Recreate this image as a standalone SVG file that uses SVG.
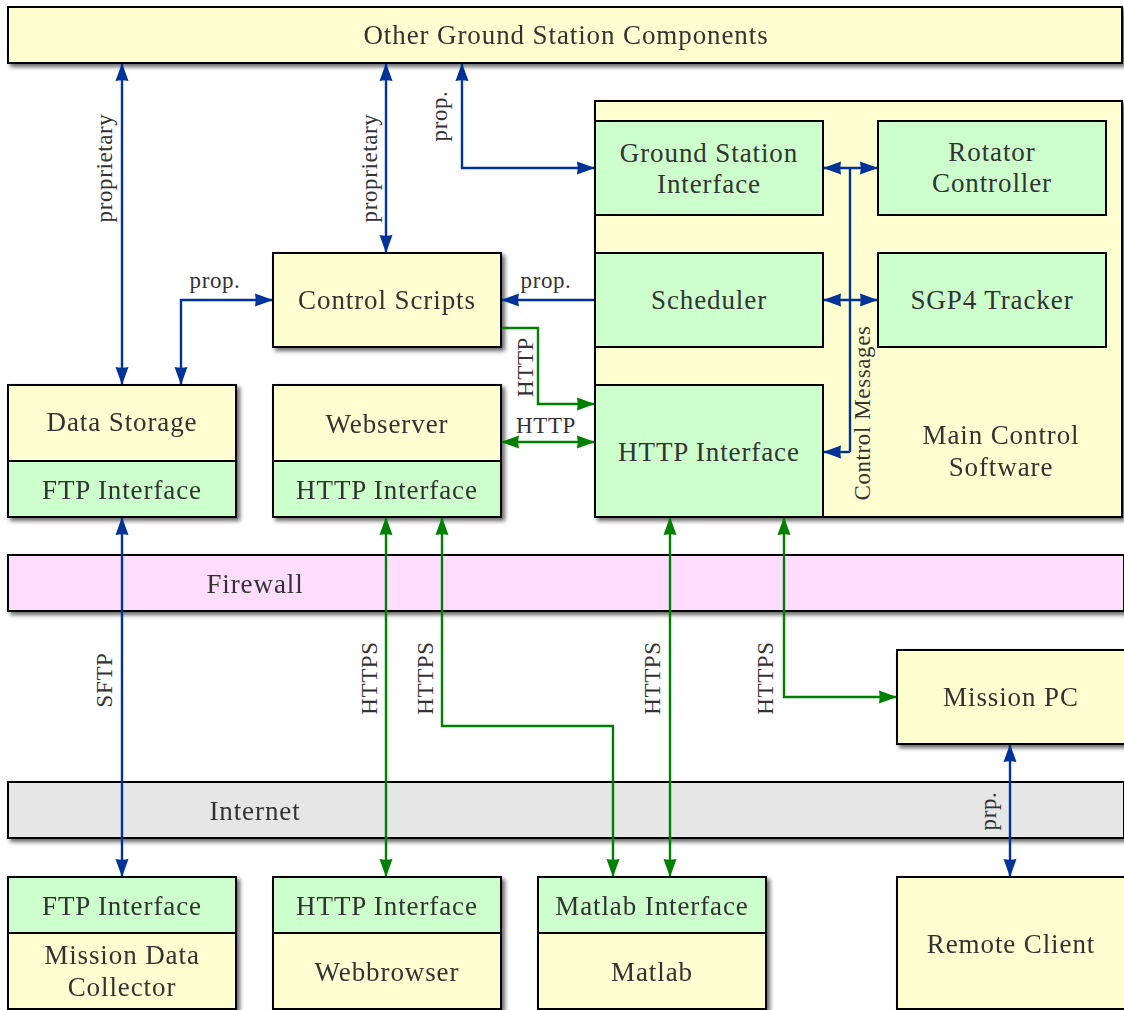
<svg xmlns="http://www.w3.org/2000/svg" width="1124" height="1010" viewBox="0 0 1124 1010">
  <defs>
    <style>
      .box { stroke: #000; stroke-width: 2; }
      .yel { fill: #FFFFD1; }
      .grn { fill: #CCFFCC; }
      .pnk { fill: #FFDDFF; }
      .gry { fill: #E6E6E6; }
      .lbl { font-family: "Liberation Serif", "Times New Roman", serif; font-size: 27px; letter-spacing: 0.9px; fill: #333; text-anchor: middle; }
      .sm { font-size: 23px; letter-spacing: 0.6px; }
      .blue { fill: none; stroke: #003399; stroke-width: 2.4; }
      .green { fill: none; stroke: #008000; stroke-width: 2.4; }
      .blue.a2, .blue.a1 { marker-end: url(#tipB); }
      .blue.a2 { marker-start: url(#tipB); }
      .green.a2, .green.a1 { marker-end: url(#tipG); }
      .green.a2 { marker-start: url(#tipG); }
    </style>
    <marker id="tipB" viewBox="-18 -7 19 14" refX="0" refY="0" markerWidth="19" markerHeight="14" markerUnits="userSpaceOnUse" orient="auto-start-reverse">
      <path d="M1,0 L-17,-6.5 Q-15.5,0 -17,6.5 Z" fill="#003399"/>
    </marker>
    <marker id="tipG" viewBox="-18 -7 19 14" refX="0" refY="0" markerWidth="19" markerHeight="14" markerUnits="userSpaceOnUse" orient="auto-start-reverse">
      <path d="M1,0 L-17,-6.5 Q-15.5,0 -17,6.5 Z" fill="#008000"/>
    </marker>
    <filter id="shadow" x="-5%" y="-10%" width="115%" height="140%">
      <feGaussianBlur in="SourceAlpha" stdDeviation="2"/>
      <feOffset dx="3" dy="3"/>
      <feComponentTransfer><feFuncA type="linear" slope="0.6"/></feComponentTransfer>
      <feMerge><feMergeNode/><feMergeNode in="SourceGraphic"/></feMerge>
    </filter>
  </defs>

  <!-- top bar -->
  <g id="other-components" filter="url(#shadow)">
    <rect class="box yel" x="8" y="7" width="1114" height="56"/>
    <text class="lbl" x="566" y="44">Other Ground Station Components</text>
  </g>

  <!-- main control software with its modules -->
  <g id="main-control" filter="url(#shadow)">
    <rect class="box yel" x="595" y="101" width="527" height="416"/>
    <text class="lbl" x="1001" y="444">Main Control</text>
    <text class="lbl" x="1001" y="476">Software</text>
  </g>
  <g id="gs-interface">
    <rect class="box grn" x="595" y="121" width="228" height="94"/>
    <text class="lbl" x="709" y="162">Ground Station</text>
    <text class="lbl" x="709" y="193">Interface</text>
  </g>
  <g id="rotator">
    <rect class="box grn" x="878" y="121" width="228" height="94"/>
    <text class="lbl" x="992" y="161">Rotator</text>
    <text class="lbl" x="992" y="192">Controller</text>
  </g>
  <g id="scheduler">
    <rect class="box grn" x="595" y="253" width="228" height="94"/>
    <text class="lbl" x="709" y="309">Scheduler</text>
  </g>
  <g id="sgp4">
    <rect class="box grn" x="878" y="253" width="228" height="94"/>
    <text class="lbl" x="992" y="309">SGP4 Tracker</text>
  </g>
  <g id="mcs-http">
    <rect class="box grn" x="595" y="385" width="228" height="132"/>
    <text class="lbl" x="709" y="461">HTTP Interface</text>
  </g>

  <!-- server side -->
  <g id="control-scripts" filter="url(#shadow)">
    <rect class="box yel" x="273" y="253" width="228" height="94"/>
    <text class="lbl" x="387" y="309">Control Scripts</text>
  </g>
  <g id="data-storage" filter="url(#shadow)">
    <rect class="box yel" x="8" y="385" width="228" height="76"/>
    <rect class="box grn" x="8" y="461" width="228" height="56"/>
    <text class="lbl" x="122" y="431">Data Storage</text>
    <text class="lbl" x="122" y="499">FTP Interface</text>
  </g>
  <g id="webserver" filter="url(#shadow)">
    <rect class="box yel" x="273" y="385" width="228" height="76"/>
    <rect class="box grn" x="273" y="461" width="228" height="56"/>
    <text class="lbl" x="387" y="433">Webserver</text>
    <text class="lbl" x="387" y="499">HTTP Interface</text>
  </g>

  <!-- network layers -->
  <g id="firewall" filter="url(#shadow)">
    <rect class="box pnk" x="8" y="555" width="1116" height="56"/>
    <text class="lbl" x="255" y="593">Firewall</text>
  </g>
  <g id="mission-pc" filter="url(#shadow)">
    <rect class="box yel" x="897" y="650" width="228" height="94"/>
    <text class="lbl" x="1011" y="706">Mission PC</text>
  </g>
  <g id="internet" filter="url(#shadow)">
    <rect class="box gry" x="8" y="782" width="1116" height="56"/>
    <text class="lbl" x="255" y="820">Internet</text>
  </g>

  <!-- clients -->
  <g id="collector" filter="url(#shadow)">
    <rect class="box grn" x="8" y="877" width="228" height="56"/>
    <rect class="box yel" x="8" y="933" width="228" height="76"/>
    <text class="lbl" x="122" y="915">FTP Interface</text>
    <text class="lbl" x="122" y="964">Mission Data</text>
    <text class="lbl" x="122" y="996">Collector</text>
  </g>
  <g id="webbrowser" filter="url(#shadow)">
    <rect class="box grn" x="273" y="877" width="228" height="56"/>
    <rect class="box yel" x="273" y="933" width="228" height="76"/>
    <text class="lbl" x="387" y="915">HTTP Interface</text>
    <text class="lbl" x="387" y="981">Webbrowser</text>
  </g>
  <g id="matlab" filter="url(#shadow)">
    <rect class="box grn" x="538" y="877" width="228" height="56"/>
    <rect class="box yel" x="538" y="933" width="228" height="76"/>
    <text class="lbl" x="652" y="915">Matlab Interface</text>
    <text class="lbl" x="652" y="981">Matlab</text>
  </g>
  <g id="remote-client" filter="url(#shadow)">
    <rect class="box yel" x="897" y="877" width="228" height="132"/>
    <text class="lbl" x="1011" y="953">Remote Client</text>
  </g>

  <!-- connectors -->
  <g id="connectors">
    <path class="blue a2" d="M122,64 V384"/>
    <path class="blue a2" d="M386,64 V252"/>
    <path class="blue a2" d="M462,64 V168 H594"/>
    <path class="blue a2" d="M272,300 H181 V384"/>
    <path class="blue a1" d="M594,300 H502"/>
    <path class="green a1" d="M502,328 H538 V404 H594"/>
    <path class="green a2" d="M502,442 H594"/>

    <path class="blue" d="M850,168 V452"/>
    <path class="blue a2" d="M824,168 H877"/>
    <path class="blue a2" d="M824,300 H877"/>
    <path class="blue a1" d="M850,452 H824"/>

    <path class="blue a2" d="M122,518 V876"/>
    <path class="green a2" d="M386,518 V876"/>
    <path class="green a2" d="M442,518 V726 H613 V876"/>
    <path class="green a2" d="M670,518 V876"/>
    <path class="green a2" d="M784,518 V697 H896"/>
    <path class="blue a2" d="M1010,745 V876"/>

    <text class="lbl sm" transform="translate(112,168) rotate(-90)">proprietary</text>
    <text class="lbl sm" transform="translate(377,168) rotate(-90)">proprietary</text>
    <text class="lbl sm" transform="translate(447,116) rotate(-90)">prop.</text>
    <text class="lbl sm" x="215" y="288">prop.</text>
    <text class="lbl sm" x="546" y="288">prop.</text>
    <text class="lbl sm" transform="translate(533,367) rotate(-90)">HTTP</text>
    <text class="lbl sm" x="546" y="433">HTTP</text>
    <text class="lbl sm" transform="translate(870,413) rotate(-90)">Control Messages</text>
    <text class="lbl sm" transform="translate(112,680) rotate(-90)">SFTP</text>
    <text class="lbl sm" transform="translate(377,678) rotate(-90)">HTTPS</text>
    <text class="lbl sm" transform="translate(433,678) rotate(-90)">HTTPS</text>
    <text class="lbl sm" transform="translate(660,678) rotate(-90)">HTTPS</text>
    <text class="lbl sm" transform="translate(773,678) rotate(-90)">HTTPS</text>
    <text class="lbl sm" transform="translate(996,811) rotate(-90)">prp.</text>
  </g>
</svg>
